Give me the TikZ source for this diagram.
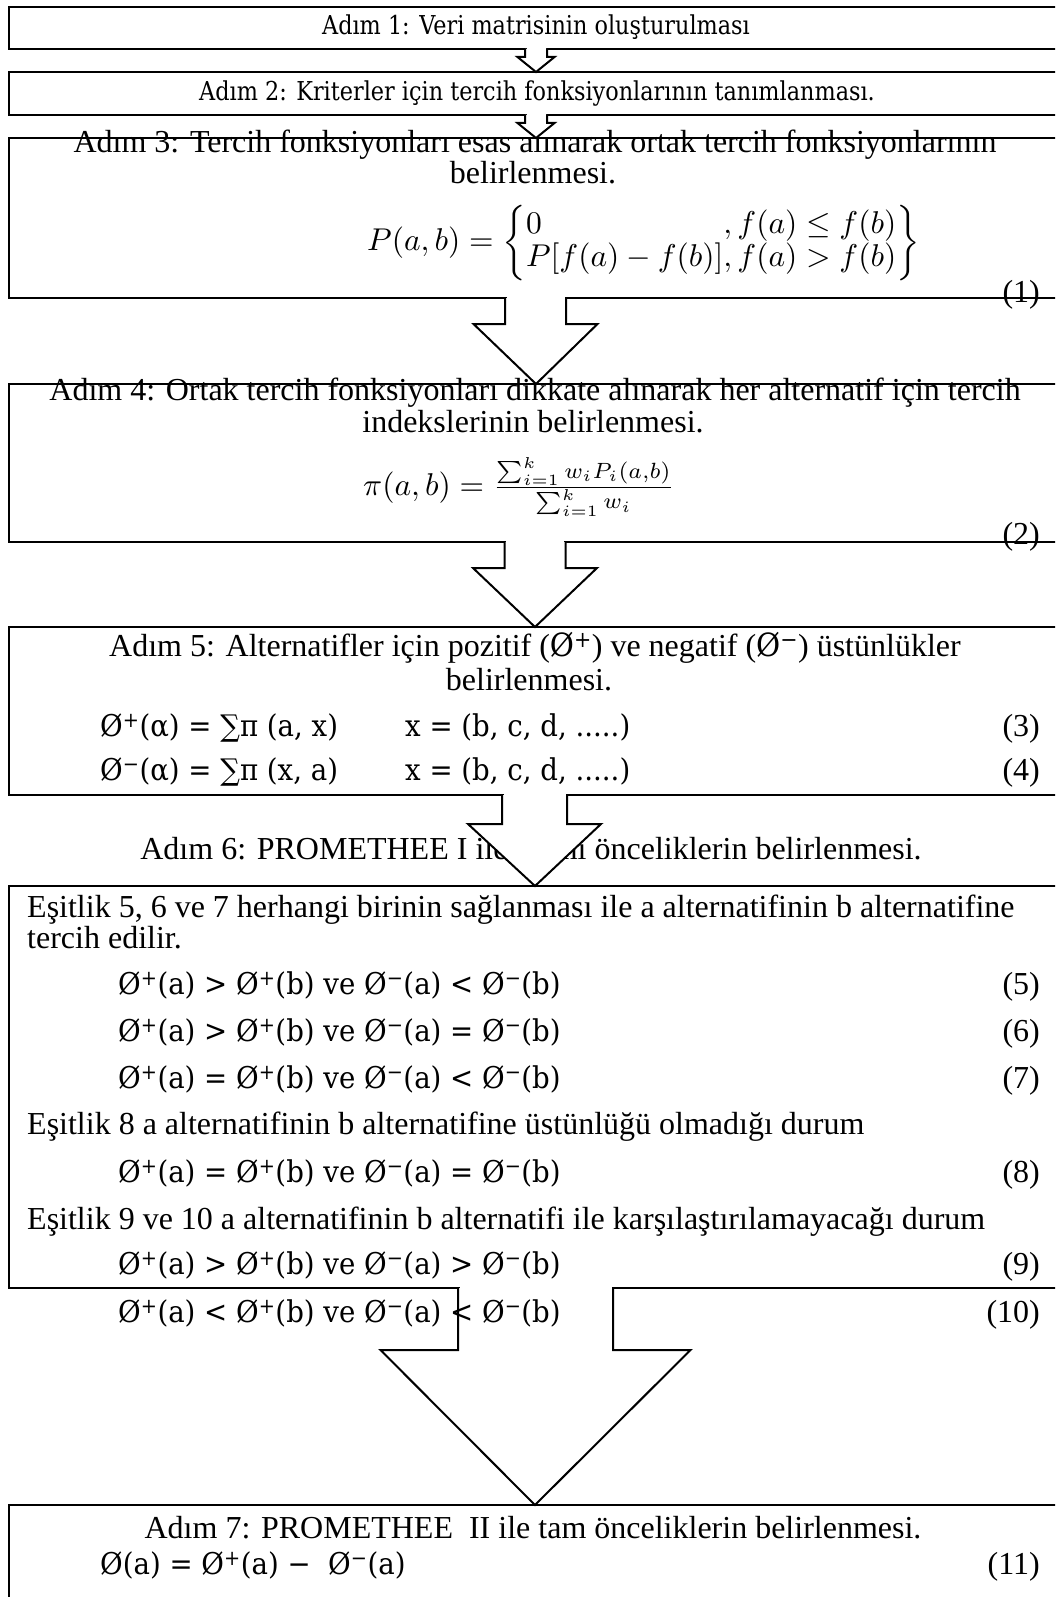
\documentclass[tikz,border=0pt]{standalone}
\usepackage{amsmath}
\usepackage{graphicx}
\usepackage{fontspec}
\setmainfont{Liberation Serif}
\newfontfamily\cam[FakeStretch=0.92]{DejaVu Serif}
\newfontfamily\camb[FakeStretch=0.86]{DejaVu Serif}
\usetikzlibrary{calc}
\newcommand\php{Ø\textsuperscript{+}}
\newcommand\phm{Ø\textsuperscript{−}}
\tikzset{
  boxst/.style={draw, line width=2.6pt, inner sep=0pt, outer sep=0pt, anchor=north west, minimum width=1200pt},
  arrowline/.style={line width=2pt, fill=white, line join=miter},
  tms/.style={font=\fontsize{32}{36}\selectfont, inner sep=0pt, text height=22pt, text depth=7pt},
  camt/.style={font=\camb\fontsize{26}{30}\selectfont, inner sep=0pt, text height=18pt, text depth=5pt},
  eqs/.style={font=\cam\fontsize{30}{34}\selectfont, inner sep=0pt, text height=22pt, text depth=7pt, anchor=west},
  mth/.style={inner sep=0pt, anchor=west},
  num/.style={tms, anchor=east},
  lft/.style={tms, anchor=west}
}
\newcommand\blockarr[5]{%
  \fill[white] let \p1=(#1) in (\x1-#3+1.5pt,\y1+2pt) rectangle (\x1+#3-1.5pt,\y1-3pt);
  \draw[arrowline] let \p1=(#1), \p2=(#2) in
   (\x1-#3,\y1) -- (\x1-#3,\y2+#5) -- (\x1-#4,\y2+#5) -- (\x2,\y2)
   -- (\x1+#4,\y2+#5) -- (\x1+#3,\y2+#5) -- (\x1+#3,\y1);}
\begin{document}
\begin{tikzpicture}[x=1pt,y=-1pt]
\useasboundingbox (0,0) rectangle (1055,1597);
\clip (0,0) rectangle (1055,1597);
% boxes
\node[boxst, minimum height=42pt] (b1) at (9,7) {};
\node[boxst, minimum height=43pt] (b2) at (9,72) {};
\node[boxst, minimum height=160pt] (b3) at (9,138) {};
\node[boxst, minimum height=158pt] (b4) at (9,384) {};
\node[boxst, minimum height=168pt] (b5) at (9,627) {};
\node[boxst, minimum height=402pt] (b6) at (9,886) {};
\node[boxst, minimum height=200pt] (b7) at (9,1505) {};
% arrow end points
\coordinate (a1s) at (536,49);   \coordinate (a1e) at (536,72);
\coordinate (a2s) at (536,115);  \coordinate (a2e) at (536,138);
\coordinate (a3s) at (535.5,298); \coordinate (a3e) at (536,384);
\coordinate (a4s) at (535,542);   \coordinate (a4e) at (535,627);
\coordinate (a5s) at (534.5,795); \coordinate (a5e) at (535,886);
\coordinate (a6s) at (535.5,1288); \coordinate (a6e) at (535,1505);
% texts of steps 1-6
\node[camt] (t1) at (536,28) {Adım 1: Veri matrisinin oluşturulması};
\node[camt] (t2) at (537,94) {Adım 2: Kriterler için tercih fonksiyonlarının tanımlanması.};
\node[tms] (t3a) at (535,145) {Adım 3: Tercih fonksiyonları esas alınarak ortak tercih fonksiyonlarının};
\node[tms] (t3b) at (533,176) {belirlenmesi.};
\node[mth] (f1) at (367,243) {\scalebox{3.15}{$\renewcommand{\arraystretch}{0.8}P(a,b)=\left\{\begin{array}{@{}l@{}l@{}}0 & ,f(a)\leq f(b)\\ P[f(a)-f(b)] & ,f(a)>f(b)\end{array}\right\}$}};
\node[num] (n1) at (1040,295) {(1)};
\node[tms] (t4a) at (535,393) {Adım 4: Ortak tercih fonksiyonları dikkate alınarak her alternatif için tercih};
\node[tms] (t4b) at (533,425) {indekslerinin belirlenmesi.};
\node[mth] (f2) at (363,487) {\scalebox{3.15}{$\pi(a,b)=\frac{\sum_{i=1}^{k}w_iP_i(a,b)}{\sum_{i=1}^{k}w_i}$}};
\node[num] (n2) at (1040,537) {(2)};
\node[tms] (t5a) at (535,649) {Adım 5: Alternatifler için pozitif ({\cam\php}) ve negatif ({\cam\phm}) üstünlükler};
\node[tms] (t5b) at (529,683) {belirlenmesi.};
\node[eqs] (e3) at (100,729) {\php(α) = ∑π (a, x)};
\node[eqs] (x3) at (405,729) {x = (b, c, d, .....)};
\node[num] (n3) at (1040,729) {(3)};
\node[eqs] (e4) at (100,773) {\phm(α) = ∑π (x, a)};
\node[eqs] (x4) at (405,773) {x = (b, c, d, .....)};
\node[num] (n4) at (1040,773) {(4)};
\node[tms] (t6) at (531,852) {Adım 6: PROMETHEE I ile kısmi önceliklerin belirlenmesi.};
% block arrows
\blockarr{a1s}{a1e}{11pt}{18.5pt}{15pt}
\blockarr{a2s}{a2e}{11pt}{18.5pt}{15pt}
\blockarr{a3s}{a3e}{30.5pt}{62pt}{60pt}
\blockarr{a4s}{a4e}{30.5pt}{62pt}{59pt}
\blockarr{a5s}{a5e}{32.5pt}{66.5pt}{62pt}
\blockarr{a6s}{a6e}{77.5pt}{155pt}{155pt}
% box 6
\node[lft] (t6a) at (27,910) {Eşitlik 5, 6 ve 7 herhangi birinin sağlanması ile a alternatifinin b alternatifine};
\node[lft] (t6b) at (27,941) {tercih edilir.};
\node[eqs] (e5) at (118,987) {\php(a) > \php(b) ve \phm(a) < \phm(b)};
\node[num] (n5) at (1040,987) {(5)};
\node[eqs] (e6) at (118,1034) {\php(a) > \php(b) ve \phm(a) = \phm(b)};
\node[num] (n6) at (1040,1034) {(6)};
\node[eqs] (e7) at (118,1081) {\php(a) = \php(b) ve \phm(a) < \phm(b)};
\node[num] (n7) at (1040,1081) {(7)};
\node[lft] (t6c) at (27,1127) {Eşitlik 8 a alternatifinin b alternatifine üstünlüğü olmadığı durum};
\node[eqs] (e8) at (118,1175) {\php(a) = \php(b) ve \phm(a) = \phm(b)};
\node[num] (n8) at (1040,1175) {(8)};
\node[lft] (t6d) at (27,1222) {Eşitlik 9 ve 10 a alternatifinin b alternatifi ile karşılaştırılamayacağı durum};
\node[eqs] (e9) at (118,1267) {\php(a) > \php(b) ve \phm(a) > \phm(b)};
\node[num] (n9) at (1040,1267) {(9)};
\node[eqs] (e10) at (118,1315) {\php(a) < \php(b) ve \phm(a) < \phm(b)};
\node[num] (n10) at (1040,1315) {(10)};
% box 7
\node[tms] (t7) at (533,1531) {Adım 7: PROMETHEE\ \ II ile tam önceliklerin belirlenmesi.};
\node[eqs] (e11) at (100,1567) {Ø(a) = \php(a) −\ \ \phm(a)};
\node[num] (n11) at (1040,1567) {(11)};
\end{tikzpicture}
\end{document}
